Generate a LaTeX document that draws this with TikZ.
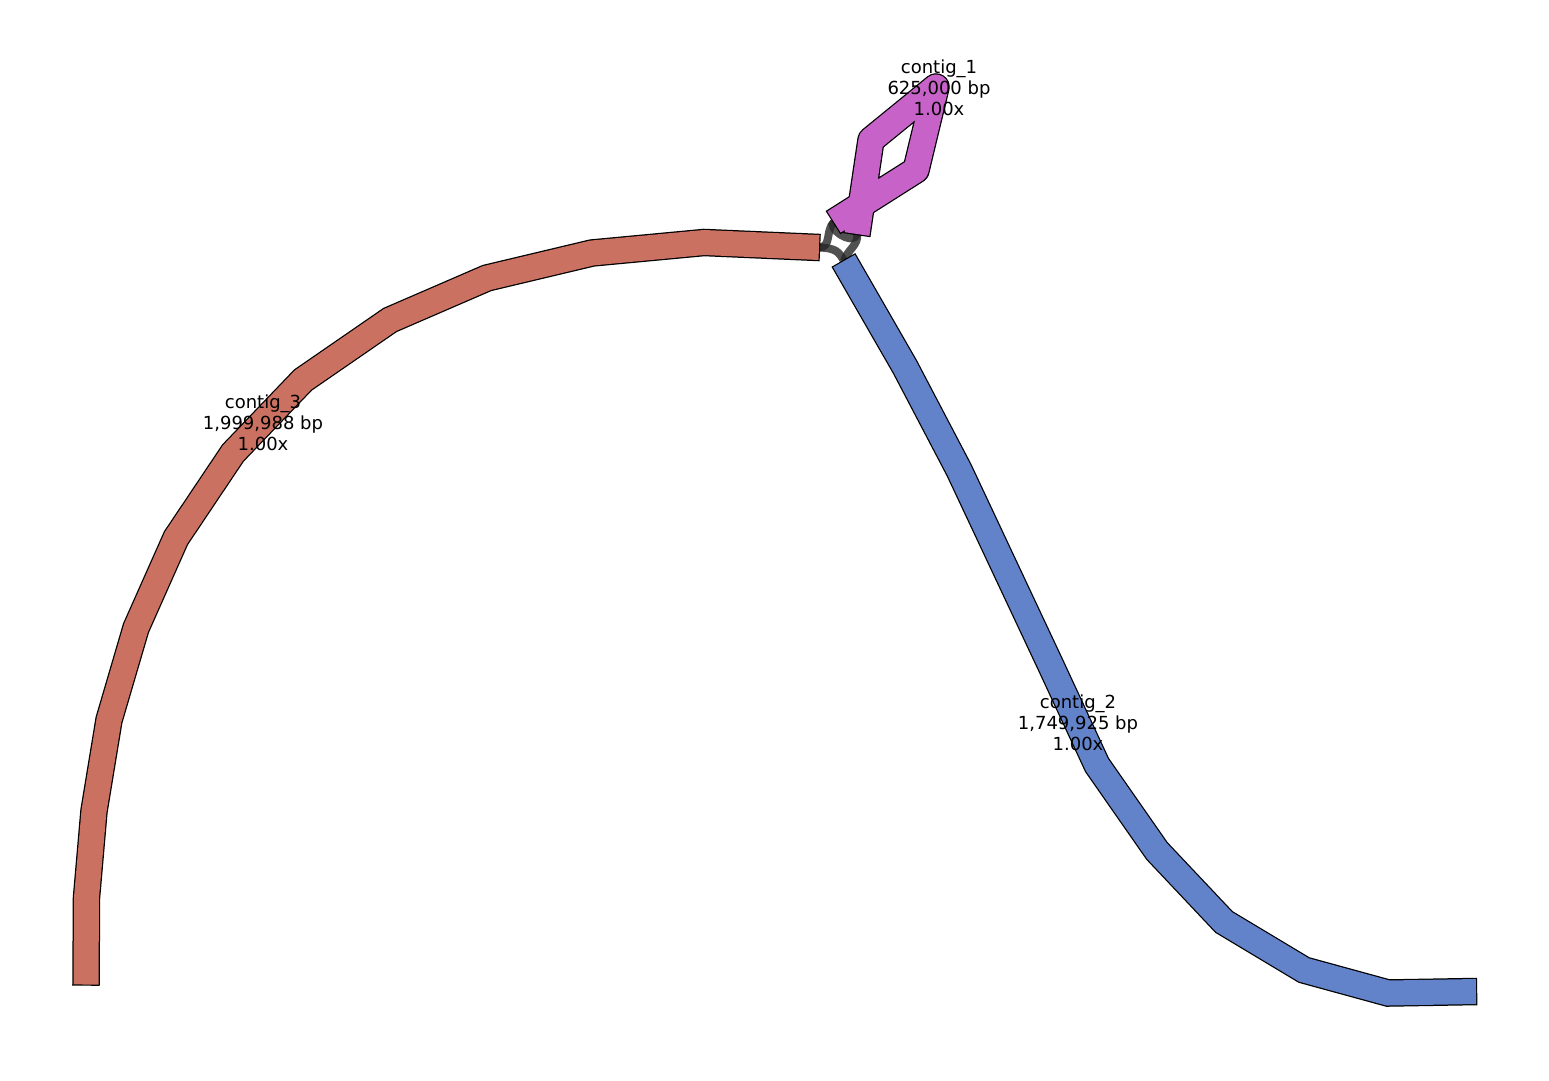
\documentclass[tikz,border=0pt]{standalone}
\usepackage{fontspec}
\setmainfont{DejaVu Sans}
\begin{document}
\begin{tikzpicture}[x=1pt,y=-1pt]
\useasboundingbox (0,0) rectangle (1549,1080);
\definecolor{cred}{RGB}{202,113,97}
\definecolor{cblue}{RGB}{98,130,202}
\definecolor{cmag}{RGB}{198,98,200}
\tikzset{
  contigout/.style={draw=black,line width=27.5pt,shorten <=-1.2pt,shorten >=-1.2pt},
  contigin/.style={line width=25pt},
  linkedge/.style={draw=black!85,opacity=0.8,line width=8pt},
  lbl/.style={align=center,font=\fontsize{18}{21}\selectfont,inner sep=0pt}
}
% named end points
\coordinate (c3start) at (86,984.5);
\coordinate (c3end) at (819,247.5);
\coordinate (c1start) at (857,234);
\coordinate (c1end) at (834,222);
\coordinate (c2start) at (844,261);
\coordinate (c2end) at (1476,991.5);
% edges (under the contigs)
\draw[linkedge] (c3end) .. controls (832,247) and (825,231) .. (c1end);
\draw[linkedge] (c3end) .. controls (836,248) and (839,252) .. (c2start);
\draw[linkedge] (c1start) .. controls (859,245) and (847,250) .. (c2start);
\draw[linkedge] (c1end) .. controls (826,227) and (852,247) .. (c1start);
% contig_3
\def\pthree{(c3start) -- (86.5,897.5) -- (94,811) -- (109,720) -- (136,628) -- (176,538) -- (233,453) -- (303,380) -- (390,320) -- (487,278) -- (592,253) -- (704,242.5) -- (c3end)}
\draw[contigout,line join=miter] \pthree;
\draw[contigin,draw=cred,line join=miter] \pthree;
% contig_2
\def\ptwo{(c2start) -- (905,367) -- (959,470) -- (1052,668) -- (1097,765) -- (1157,851) -- (1224,922) -- (1304,970) -- (1388,993) -- (c2end)}
\draw[contigout,line join=miter] \ptwo;
\draw[contigin,draw=cblue,line join=miter] \ptwo;
% contig_1
\def\pone{(c1start) -- (871,140) -- (936,87) -- (916,170) -- (c1end)}
\draw[contigout,line join=round] \pone;
\draw[contigin,draw=cmag,line join=round] \pone;
% labels
\node[lbl] (l1) at (939,88) {contig\_1\\625,000 bp\\1.00x};
\node[lbl] (l3) at (263,423) {contig\_3\\1,999,988 bp\\1.00x};
\node[lbl] (l2) at (1078,723) {contig\_2\\1,749,925 bp\\1.00x};
\end{tikzpicture}
\end{document}
